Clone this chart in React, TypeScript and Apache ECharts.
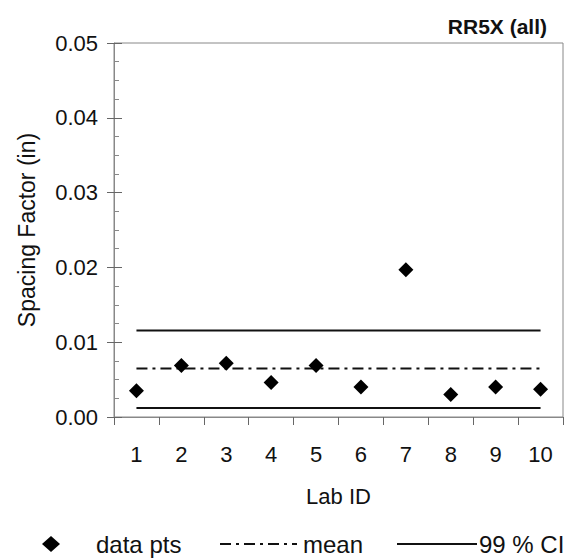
import React, { useEffect, useRef } from "react";
import * as echarts from "echarts";

const labIds = ["1", "2", "3", "4", "5", "6", "7", "8", "9", "10"];
const dataPts = [0.0035, 0.0069, 0.0072, 0.0046, 0.0069, 0.0040, 0.0197, 0.0030, 0.0040, 0.0037];
const meanValue = 0.0065;
const ciUpper = 0.01155;
const ciLower = 0.0012;
const yTicks = { min: 0, max: 0.05, interval: 0.01 };

const FONT = "'Liberation Sans', Arial, Helvetica, sans-serif";

export default function App() {
  const ref = useRef<HTMLDivElement>(null);
  useEffect(() => {
    if (!ref.current) return;
    const chart = echarts.init(ref.current, null, { renderer: "svg" });
    const meanArr = labIds.map(() => meanValue);
    const upArr = labIds.map(() => ciUpper);
    const loArr = labIds.map(() => ciLower);
    const textStyle = { fontFamily: FONT, color: "#111" };
    const legendText = { fontFamily: FONT, fontSize: 24, color: "#111" };
    chart.setOption({
      animation: false,
      backgroundColor: "#fff",
      textStyle,
      title: {
        text: "RR5X (all)",
        right: 20,
        top: 11,
        textStyle: { fontFamily: FONT, fontSize: 21, fontWeight: "bold", color: "#111" },
      },
      grid: {
        left: 114,
        right: 9,
        top: 43,
        bottom: 142,
        show: true,
        borderColor: "#888",
        borderWidth: 1,
      },
      legend: [
        {
          data: ["data pts"],
          left: 37,
          top: 527,
          icon: "diamond",
          itemWidth: 18,
          itemHeight: 16,
          itemStyle: { color: "#000", opacity: 1 },
          textStyle: { ...legendText, padding: [0, 0, 0, 31] },
        },
        {
          data: ["mean"],
          left: 214,
          top: 527,
          itemWidth: 77,
          itemHeight: 16,
          itemStyle: { opacity: 0 },
          textStyle: { ...legendText, padding: [0, 0, 0, 1] },
        },
        {
          data: ["99 % CI"],
          left: 391,
          top: 527,
          itemWidth: 80,
          itemHeight: 16,
          itemStyle: { opacity: 0 },
          textStyle: { ...legendText, padding: [0, 0, 0, -3] },
        },
      ],
      xAxis: {
        type: "category",
        data: labIds,
        boundaryGap: true,
        name: "Lab ID",
        nameLocation: "middle",
        nameGap: 68,
        nameTextStyle: { fontFamily: FONT, fontSize: 22, color: "#111" },
        axisLine: { lineStyle: { color: "#888", width: 1 } },
        axisTick: { show: true, length: 8, lineStyle: { color: "#666" } },
        axisLabel: { fontFamily: FONT, fontSize: 22, color: "#111", margin: 26 },
        splitLine: { show: false },
      },
      yAxis: [
        {
          type: "value",
          min: yTicks.min,
          max: yTicks.max,
          interval: yTicks.interval,
          name: "Spacing Factor (in)",
          nameLocation: "middle",
          nameGap: 76,
          nameTextStyle: { fontFamily: FONT, fontSize: 23, color: "#111" },
          axisLine: { show: true, lineStyle: { color: "#888", width: 1 } },
          axisTick: { show: true, length: 7, lineStyle: { color: "#666" } },
          axisLabel: {
            fontFamily: FONT,
            fontSize: 22,
            color: "#111",
            margin: 16,
            formatter: (v: number) => v.toFixed(2),
          },
          splitLine: { show: false },
        },
        {
          type: "value",
          min: yTicks.min,
          max: yTicks.max,
          interval: yTicks.interval,
          position: "left",
          axisLine: { show: false },
          axisTick: { show: true, inside: true, length: 8, lineStyle: { color: "#666" } },
          minorTick: { show: true, splitNumber: 4, length: 5, lineStyle: { color: "#888" } },
          axisLabel: { show: false },
          splitLine: { show: false },
        },
      ],
      series: [
        {
          name: "99 % CI",
          type: "line",
          data: upArr,
          symbol: "none",
          lineStyle: { color: "#111", width: 2, type: "solid" },
          itemStyle: { color: "#111" },
          z: 2,
        },
        {
          name: "99 % CI",
          type: "line",
          data: loArr,
          symbol: "none",
          lineStyle: { color: "#111", width: 2, type: "solid" },
          itemStyle: { color: "#111" },
          z: 2,
        },
        {
          name: "mean",
          type: "line",
          data: meanArr,
          symbol: "none",
          lineStyle: { color: "#111", width: 2, type: [11, 5, 3, 5] },
          itemStyle: { color: "#111" },
          z: 2,
        },
        {
          name: "data pts",
          type: "scatter",
          data: dataPts,
          symbol: "diamond",
          symbolSize: [15, 15],
          itemStyle: { color: "#000", opacity: 1 },
          z: 3,
        },
      ],
    });
    return () => chart.dispose();
  }, []);
  return <div ref={ref} style={{ width: 572, height: 559, position: "absolute", left: 0, top: 0 }} />;
}
